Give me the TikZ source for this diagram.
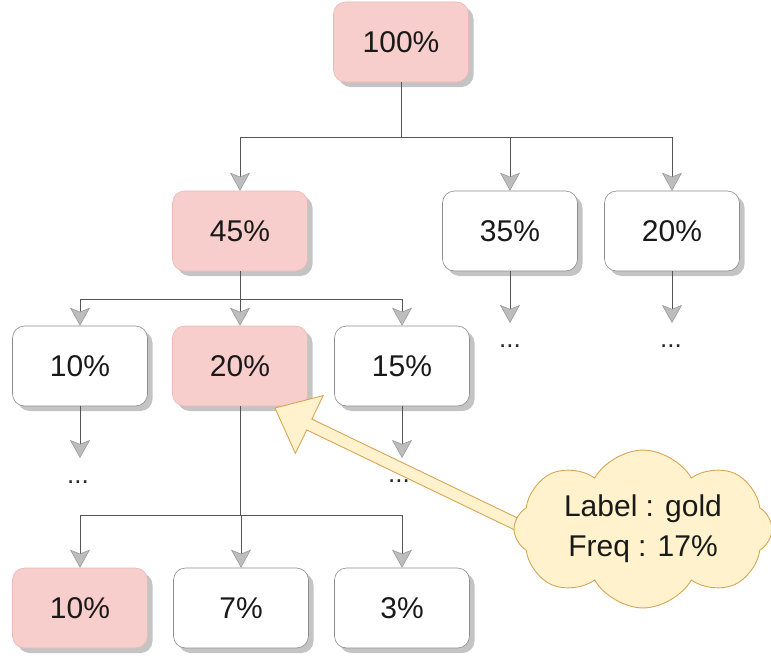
\documentclass[tikz,border=0pt]{standalone}
\usepackage{fontspec}
\setmainfont{Liberation Sans}
\usetikzlibrary{arrows.meta,shapes.symbols,shadows}
\definecolor{pinkfill}{HTML}{F8CECC}
\definecolor{pinkline}{HTML}{E9B9B7}
\definecolor{boxline}{HTML}{8C8C8C}
\definecolor{shade}{HTML}{C4C4C4}
\definecolor{wire}{HTML}{555555}
\definecolor{tipfill}{HTML}{BDBDBD}
\definecolor{tipline}{HTML}{9A9A9A}
\definecolor{cream}{HTML}{FFF2CC}
\definecolor{goldline}{HTML}{D6A656}
\tikzset{
  cell/.style={rounded corners=12pt, minimum width=135pt, minimum height=80pt,
    inner sep=0pt, draw=boxline, line width=0.6pt, fill=white,
    font=\fontsize{30}{36}\selectfont, text=black!90,
    general shadow={shadow xshift=5pt, shadow yshift=-5pt, fill=shade}},
  hot/.style={cell, fill=pinkfill, draw=pinkline},
  wireline/.style={draw=wire, line width=0.8pt},
  arr/.style={wireline, -{Stealth[length=18pt, width=20pt, inset=4pt, fill=tipfill, color=tipline, line width=0.6pt]}},
  more/.style={font=\fontsize{26}{28}\selectfont, text=black!85, inner sep=0pt}
}
\begin{document}
\begin{tikzpicture}[x=1pt, y=-1pt]
\useasboundingbox (0,0) rectangle (771,661);

% tree nodes
\node[hot]  (n100) at (401,42)  {100\%};
\node[hot]  (n45)  at (240,231) {45\%};
\node[cell] (n35)  at (510,231) {35\%};
\node[cell] (n20a) at (672,231) {20\%};
\node[cell] (n10a) at (80,366)  {10\%};
\node[hot]  (n20b) at (240,366) {20\%};
\node[cell] (n15)  at (402,366) {15\%};
\node[hot]  (n10b) at (80,608)  {10\%};
\node[cell] (n7)   at (241,608) {7\%};
\node[cell] (n3)   at (402,608) {3\%};

% junction levels
\coordinate (j1) at (401,137);
\coordinate (j2) at (240,299);
\coordinate (j3) at (240,515);

% 100% -> 45%, 35%, 20%
\draw[wireline] (n100.south) -- (j1);
\draw[wireline] (n45.north |- j1) -- (n20a.north |- j1);
\draw[arr] (n45.north |- j1) -- (n45.north);
\draw[arr] (n35.north |- j1) -- (n35.north);
\draw[arr] (n20a.north |- j1) -- (n20a.north);

% 45% -> 10%, 20%, 15%
\draw[wireline] (n45.south) -- (j2);
\draw[wireline] (n10a.north |- j2) -- (n15.north |- j2);
\draw[arr] (n10a.north |- j2) -- (n10a.north);
\draw[arr] (n20b.north |- j2) -- (n20b.north);
\draw[arr] (n15.north |- j2) -- (n15.north);

% 20% -> 10%, 7%, 3%
\draw[wireline] (n20b.south) -- (j3);
\draw[wireline] (n10b.north |- j3) -- (n3.north |- j3);
\draw[arr] (n10b.north |- j3) -- (n10b.north);
\draw[arr] (n7.north |- j3) -- (n7.north);
\draw[arr] (n3.north |- j3) -- (n3.north);

% branches that continue
\coordinate (e35) at (510,323);
\coordinate (e20) at (672,323);
\coordinate (e10) at (80,458);
\coordinate (e15) at (402,458);
\draw[arr] (n35.south) -- (e35);
\draw[arr] (n20a.south) -- (e20);
\draw[arr] (n10a.south) -- (e10);
\draw[arr] (n15.south) -- (e15);
\node[more] (d35) at (510,346) {...};
\node[more] (d20) at (671,346) {...};
\node[more] (d10) at (78,482)  {...};
\node[more] (d15) at (399,481) {...};

% callout pointer
\coordinate (tip) at (275,408);
\draw[fill=cream, draw=goldline, line width=0.9pt, line join=miter]
  (tip) -- (323.2,395.6) -- (311.9,419.1) -- (557.2,537.1)
  -- (552.0,547.9) -- (306.7,429.9) -- (295.4,453.4) -- cycle;

% callout cloud
\node[cloud, cloud puffs=8, cloud puff arc=120, aspect=1.9,
      fill=cream, draw=goldline, line width=0.9pt,
      minimum width=258pt, minimum height=150pt, inner sep=0pt,
      align=center, font=\fontsize{30}{40}\selectfont, text=black!90]
  (info) at (643,529) {Label : gold\\Freq : 17\%};
\end{tikzpicture}
\end{document}
